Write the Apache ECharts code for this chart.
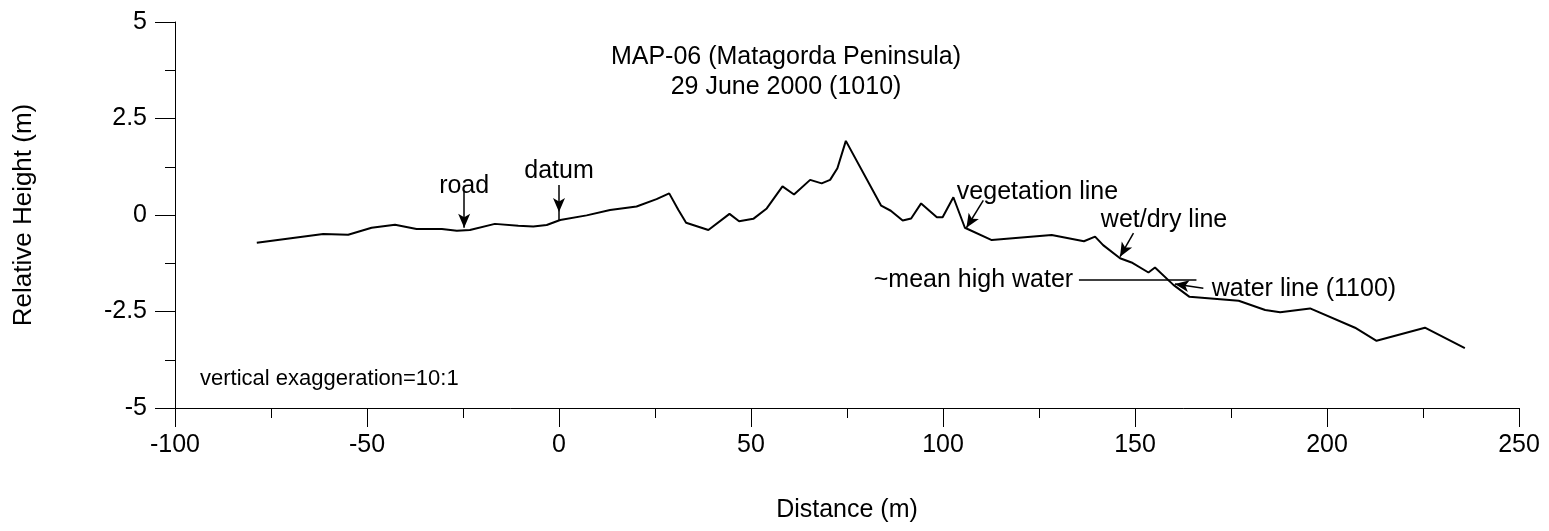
<!DOCTYPE html>
<html>
<head>
<meta charset="utf-8">
<script src="https://cdn.jsdelivr.net/npm/echarts@6/dist/echarts.min.js"></script>
<style>
  html, body { margin: 0; padding: 0; background: #fff; }
  #chart { width: 1549px; height: 531px; }
</style>
</head>
<body>
<div id="chart"></div>
<script>
// beach profile: distance (m) vs relative height (m)
const distance = [-78.7, -61.4, -54.9, -48.8, -42.7, -37.1, -30.5, -26.6, -23.2, -16.7, -10.6, -6.7, -3.2, 0.3,
  7.2, 13.3, 20.2, 25.4, 28.7, 31.1, 33.1, 38.9, 44.4, 46.9, 50.6, 54.1, 58.2, 61.2, 65.4, 68.4, 70.6, 72.5, 74.7,
  83.9, 86.4, 89.5, 91.7, 94.3, 98.4, 99.9, 102.7, 105.7, 112.7, 128.3, 136.7, 139.6, 141.7, 146.1, 149.1, 153.5,
  155.2, 160.0, 164.2, 177.0, 183.9, 187.8, 195.6, 207.3, 212.9, 225.5, 235.9];
const height = [-0.72, -0.49, -0.51, -0.33, -0.25, -0.36, -0.36, -0.41, -0.39, -0.23, -0.28, -0.30, -0.26, -0.13,
  -0.01, 0.13, 0.22, 0.41, 0.56, 0.13, -0.20, -0.39, 0.03, -0.16, -0.10, 0.17, 0.74, 0.53, 0.91, 0.82, 0.91, 1.21, 1.92,
  0.24, 0.11, -0.14, -0.09, 0.30, -0.06, -0.06, 0.46, -0.33, -0.65, -0.52, -0.68, -0.56, -0.78, -1.12, -1.23, -1.49,
  -1.36, -1.81, -2.12, -2.22, -2.46, -2.52, -2.42, -2.92, -3.26, -2.92, -3.45];

// annotation arrows [from, to]
const arrows = [
  [[-24.7, 0.60], [-24.7, -0.33]],   // road
  [[0, 0.78], [0, 0.08]],            // datum
  [[110.5, 0.38], [106.1, -0.33]],   // vegetation line
  [[149.6, -0.47], [146.1, -1.08]],  // wet/dry line
  [[167.8, -1.90], [160.4, -1.79]]   // water line
];
const plainLines = [
  [[0, 0.08], [0, -0.15]],           // datum marker
  [[135.4, -1.68], [166.0, -1.68]]   // ~mean high water
];
const labelsCenter = [['road', -24.7, 0.75], ['datum', 0, 1.14]];
const labelsLeft = [['vegetation line', 103.6, 0.60], ['wet/dry line', 141.1, -0.13], ['water line (1100)', 170.0, -1.92]];
const labelsRight = [['~mean high water', 133.9, -1.68]];

const FONT = 'Liberation Sans, Arial, sans-serif';
const chart = echarts.init(document.getElementById('chart'));

const profile = distance.map((d, i) => [d, height[i]]);
const lblSeries = (arr, align) => ({
  type: 'scatter',
  symbolSize: 0,
  silent: true,
  itemStyle: { opacity: 1 },
  data: arr.map(a => ({ name: a[0], value: [a[1], a[2]] })),
  label: {
    show: true, position: 'inside', formatter: '{b}', align: align,
    color: '#000', fontSize: 25, fontFamily: FONT
  }
});

chart.setOption({
  animation: false,
  title: {
    text: 'MAP-06 (Matagorda Peninsula)\n29 June 2000 (1010)',
    left: 781, top: 37, textAlign: 'center',
    textStyle: { fontSize: 25, fontWeight: 'normal', color: '#000', fontFamily: FONT, lineHeight: 30 }
  },
  graphic: [{
    type: 'text', left: 200, top: 368,
    style: { text: 'vertical exaggeration=10:1', fontSize: 22, fontFamily: FONT, fill: '#000' }
  }],
  grid: { left: 175, right: 30, top: 22, bottom: 123 },
  xAxis: {
    type: 'value', min: -100, max: 250, interval: 50,
    name: 'Distance (m)', nameLocation: 'middle', nameGap: 90,
    nameTextStyle: { fontSize: 25, color: '#000', fontFamily: FONT },
    axisLine: { onZero: false, lineStyle: { color: '#000', width: 1 } },
    axisTick: { length: 19, lineStyle: { color: '#000' } },
    minorTick: { show: true, splitNumber: 2, length: 10, lineStyle: { color: '#000' } },
    axisLabel: { margin: 25, fontSize: 25, color: '#000', fontFamily: FONT },
    splitLine: { show: false }
  },
  yAxis: {
    type: 'value', min: -5, max: 5, interval: 2.5,
    name: 'Relative Height (m)', nameLocation: 'middle', nameGap: 138,
    nameTextStyle: { fontSize: 26, color: '#000', fontFamily: FONT },
    axisLine: { show: true, onZero: false, lineStyle: { color: '#000', width: 1 } },
    axisTick: { show: true, length: 20, lineStyle: { color: '#000' } },
    minorTick: { show: true, splitNumber: 2, length: 10, lineStyle: { color: '#000' } },
    axisLabel: { margin: 28, fontSize: 25, color: '#000', fontFamily: FONT },
    splitLine: { show: false }
  },
  series: [
    {
      type: 'line', data: profile, showSymbol: false, silent: true,
      lineStyle: { color: '#000', width: 2 },
      markLine: {
        silent: true, animation: false,
        label: { show: false },
        lineStyle: { color: '#000', type: 'solid', width: 1.5 },
        data: arrows.map(a => [
          { coord: a[0], symbol: 'none' },
          { coord: a[1], symbol: 'arrow', symbolSize: [9, 14] }
        ]).concat(plainLines.map(a => [
          { coord: a[0], symbol: 'none' },
          { coord: a[1], symbol: 'none' }
        ]))
      }
    },
    lblSeries(labelsCenter, 'center'),
    lblSeries(labelsLeft, 'left'),
    lblSeries(labelsRight, 'right')
  ]
});
</script>
</body>
</html>
